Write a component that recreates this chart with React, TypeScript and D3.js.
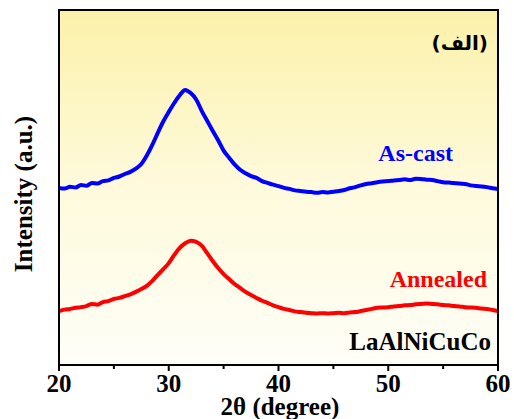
import React from "react";
import * as d3 from "d3";

const twoTheta = [20,20.5,21,21.5,22,22.5,23,23.5,24,24.5,25,25.5,26,26.5,27,27.5,28,28.5,29,29.5,30,30.5,31,31.5,32,32.5,33,33.5,34,34.5,35,35.5,36,36.5,37,37.5,38,38.5,39,39.5,40,40.5,41,41.5,42,42.5,43,43.5,44,44.5,45,45.5,46,46.5,47,47.5,48,48.5,49,49.5,50,50.5,51,51.5,52,52.5,53,53.5,54,54.5,55,55.5,56,56.5,57,57.5,58,58.5,59,59.5,60];
const asCast = [499,497,502,500,507,505,513,511,518,520,527,531,538,544,553,566,590,620,654,686,713,738,760,775,766,748,716,688,660,633,604,584,565,550,540,532,527,518,513,508,504,499,496,492,490,488,487,485,487,486,488,490,493,498,501,506,510,512,515,517,518,520,521,523,521,525,524,522,521,518,515,514,513,511,510,506,504,503,501,498,496];
const annealed = [152,156,158,161,163,166,172,170,177,180,186,189,194,199,206,214,223,237,254,270,287,310,330,343,350,347,336,315,293,273,256,242,228,217,206,197,189,181,175,168,163,158,155,151,149,147,146,145,146,145,146,147,146,148,149,152,155,158,161,162,163,165,166,168,169,171,172,173,172,171,169,168,166,165,163,162,161,159,158,155,152];
const xTicks = [20,30,40,50,60];
const xMinor = [25,35,45,55];

const W = 514, H = 419;
const L = 59, R = 498, T = 10, B = 365;

export default function App() {
  const x = d3.scaleLinear().domain([20, 60]).range([L, R]);
  const y = d3.scaleLinear().domain([0, 1000]).range([B, T]);
  const line = d3.line<[number, number]>().x(d => x(d[0])).y(d => y(d[1])).curve(d3.curveMonotoneX);
  const blue = line(twoTheta.map((t, i) => [t, asCast[i]]));
  const red = line(twoTheta.map((t, i) => [t, annealed[i]]));
  const font = "'Liberation Serif', 'Times New Roman', serif";
  return (
    <svg width={W} height={H} style={{ position: "absolute", left: 0, top: 0 }}>
      <defs>
        <linearGradient id="bg" x1="0" y1="0" x2="0" y2="1">
          <stop offset="0" stopColor="#fcf1aa" />
          <stop offset="0.5" stopColor="#fefadc" />
          <stop offset="1" stopColor="#fffef8" />
        </linearGradient>
        <clipPath id="clip"><rect x={L} y={T} width={R - L} height={B - T} /></clipPath>
      </defs>
      <rect x={0} y={0} width={W} height={H} fill="#fff" />
      <rect x={L} y={T} width={R - L} height={B - T} fill="url(#bg)" />
      <g clipPath="url(#clip)">
        <path d={blue || ""} fill="none" stroke="#0000ff" strokeWidth={4} strokeLinejoin="round" />
        <path d={red || ""} fill="none" stroke="#ff0000" strokeWidth={4} strokeLinejoin="round" />
      </g>
      <rect x={L} y={T} width={R - L} height={B - T} fill="none" stroke="#000" strokeWidth={2} />
      {xTicks.map(t => (
        <g key={t}>
          <line x1={x(t)} x2={x(t)} y1={B} y2={B + 6} stroke="#000" strokeWidth={2} />
          <text x={x(t)} y={392} textAnchor="middle" fontFamily={font} fontWeight="bold" fontSize={25}>{t}</text>
        </g>
      ))}
      {xMinor.map(t => (
        <line key={t} x1={x(t)} x2={x(t)} y1={B} y2={B + 4} stroke="#000" strokeWidth={2} />
      ))}
      <text x={280} y={415} textAnchor="middle" fontFamily={font} fontWeight="bold" fontSize={25}>2θ (degree)</text>
      <text transform={`translate(32,194) rotate(-90)`} textAnchor="middle" fontFamily={font} fontWeight="bold" fontSize={25}>Intensity (a.u.)</text>
      <text x={453} y={161} textAnchor="end" fontFamily={font} fontWeight="bold" fontSize={24} fill="#0000ff">As-cast</text>
      <text x={487} y={287} textAnchor="end" fontFamily={font} fontWeight="bold" fontSize={24} fill="#ff0000">Annealed</text>
      <text x={491} y={350} textAnchor="end" fontFamily={font} fontWeight="bold" fontSize={25} fill="#000">LaAlNiCuCo</text>
      <text x={488} y={50} textAnchor="end" fontFamily="'DejaVu Sans', sans-serif" fontWeight="bold" fontSize={20} fill="#000">(الف)</text>
    </svg>
  );
}
